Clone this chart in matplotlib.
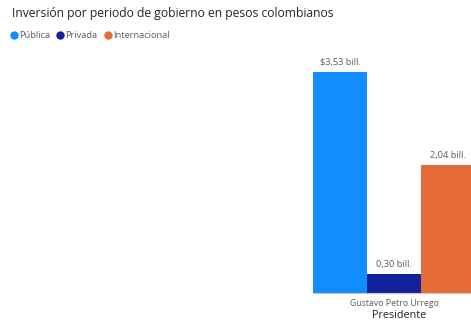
import numpy as np
import matplotlib.pyplot as plt
from matplotlib.lines import Line2D
from matplotlib.transforms import ScaledTranslation

# --- Data -----------------------------------------------------------------

presidents = ["Gustavo Petro Urrego"]
series     = ["Pública", "Privada", "Internacional"]
values     = [3.53, 0.30, 2.04]          # billones de pesos
labels     = ["$3,53 bill.", "0,30 bill.", "2,04 bill."]
colors     = ["#118DFF", "#12239E", "#E66C37"]

# --------------------------------------------------------------------------

plt.rcParams["font.family"] = ["Open Sans", "DejaVu Sans"]

W, H = 471, 322
fig = plt.figure(figsize=(W / 100, H / 100), dpi=100, facecolor="white")

# plot area starts mid-figure; the last bar runs past the right edge
ax = fig.add_axes([313 / W, 29 / H, 1 - 313 / W, 243 / H])

width = 1.0
x = np.arange(len(presidents))
for i, (name, v, lab, c) in enumerate(zip(series, values, labels, colors)):
    pos = x + (i - 1) * width
    ax.bar(pos, [v], width=width, color=c, clip_on=True)
    ax.text(pos[0], v + 0.08, lab, ha="center", va="bottom",
            fontsize=6.7, color="#605E5C")

ax.set_xlim(-1.5, 1.426)
ax.set_ylim(0, 3.88)
ax.set_xticks(x)
ax.set_xticklabels(presidents, fontsize=6.3, color="#605E5C")
for t in ax.get_xticklabels():
    t.set_transform(t.get_transform() + ScaledTranslation(0.05, 0, fig.dpi_scale_trans))
ax.tick_params(axis="x", length=0, pad=4)
ax.set_yticks([])
for s in ["top", "right", "left"]:
    ax.spines[s].set_visible(False)
ax.spines["bottom"].set_color("#C8C6C4")
ax.spines["bottom"].set_linewidth(0.8)

fig.text(399 / W, 1 - 316 / H, "Presidente", ha="center", va="center",
         fontsize=7.8, color="#252423")

fig.text(12 / W, 1 - 14 / H, "Inversión por periodo de gobierno en pesos colombianos",
         ha="left", va="center", fontsize=8.7, color="#252423")

handles = [Line2D([], [], marker="o", linestyle="", markersize=5,
                  markerfacecolor=c, markeredgecolor=c) for c in colors]
fig.legend(handles, series, loc="center left", bbox_to_anchor=(10 / W, 1 - 36 / H),
           ncol=3, frameon=False, fontsize=6.7, labelcolor="#605E5C",
           handletextpad=0.15, columnspacing=0.7, handlelength=0.8,
           borderpad=0, borderaxespad=0)

fig.savefig("out.png", dpi=100, facecolor="white")
